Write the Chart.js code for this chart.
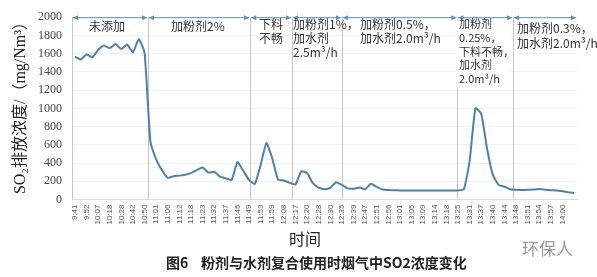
<!DOCTYPE html>
<html>
<head>
<meta charset="utf-8">
<script src="https://cdn.jsdelivr.net/npm/chart.js@4.4.1/dist/chart.umd.min.js"></script>
<style>
  html, body { margin: 0; padding: 0; background: #fff; }
  #wrap { width: 597px; height: 277px; position: relative; }
</style>
</head>
<body>
<div id="wrap"><canvas id="chart" width="597" height="277"></canvas></div>
<script>
// time labels shown under the axis (one per two samples)
const timeLabels = [
  "9:41", "9:52", "10:07", "10:18", "10:28", "10:42", "10:50",
  "11:01", "11:06", "11:12", "11:18", "11:23", "11:32", "11:37",
  "11:45", "11:49", "11:53", "11:59", "12:08", "12:17", "12:20",
  "12:28", "12:30", "12:35", "12:39", "12:47", "12:51", "12:56",
  "13:01", "13:05", "13:09", "13:14", "13:18", "13:25", "13:31",
  "13:37", "13:40", "13:44", "13:48", "13:51", "13:54", "13:57", "14:00"
];

// SO2 concentration, mg/Nm3
const so2Values = [
  1567, 1535, 1590, 1560, 1640, 1690, 1660, 1705, 1650, 1700, 1615, 1760, 1610,
  640, 440, 320, 238, 255, 262, 272, 290, 322, 350, 295, 305, 250, 232, 215,
  410, 315, 215, 170, 380, 620, 450, 218, 208, 185, 165, 310, 290, 180, 130,
  112, 128, 190, 160, 122, 118, 132, 112, 172, 138, 110, 103, 101, 100, 100,
  100, 100, 100, 100, 100, 100, 100, 100, 100, 110, 420, 1000, 940, 560, 270,
  160, 140, 112, 106, 104, 106, 110, 114, 108, 102, 98, 90, 80, 72
];

// boundaries between test stages, in sample positions
const stageBreaks = [12.6, 30.2, 37.4, 46, 65.9, 75.5];

const stageNotes = [
  ["未添加"],
  ["加粉剂2%"],
  ["下料", "不畅"],
  ["加粉剂1%，", "加水剂", "2.5m³/h"],
  ["加粉剂0.5%，", "加水剂2.0m³/h"],
  ["加粉剂", "0.25%，", "下料不畅，", "加水剂", "2.0m³/h"],
  ["加粉剂0.3%，", "加水剂2.0m³/h"]
];

const yMin = 0, yMax = 2000, yStep = 200;

// where each note sits on the canvas
const noteLayout = [
  { x: 89, y: [26], size: 12 },
  { x: 171, y: [26], size: 12 },
  { x: 259, y: [24, 38], size: 12 },
  { x: 293, y: [24, 38, 52], size: 12 },
  { x: 360, y: [24, 38], size: 12 },
  { x: 459, y: [24, 37.5, 51.5, 65, 79], size: 11 },
  { x: 517, y: [28.5, 43], size: 12 }
];

const categories = so2Values.map((v, i) => (i % 2 === 0 ? timeLabels[i / 2] || "" : ""));

const lineColor = "#4d80aa";
const cjk = '"Noto Sans CJK SC"';

const decorations = {
  id: "decorations",
  beforeDatasetsDraw(chart) {
    const { ctx, chartArea, scales } = chart;
    const x0 = scales.x.getPixelForValue(0);
    const step = scales.x.getPixelForValue(1) - x0;
    ctx.save();
    ctx.strokeStyle = "#c4c4c4";
    ctx.lineWidth = 1;
    stageBreaks.forEach(b => {
      const px = Math.round(x0 + b * step) + 0.5;
      ctx.beginPath();
      ctx.moveTo(px, chartArea.top);
      ctx.lineTo(px, chartArea.bottom);
      ctx.stroke();
    });
    ctx.restore();
  },
  afterDraw(chart) {
    const { ctx, chartArea, scales } = chart;
    const x0 = scales.x.getPixelForValue(0);
    const step = scales.x.getPixelForValue(1) - x0;
    const edges = [chartArea.left].concat(stageBreaks.map(b => x0 + b * step), [chartArea.right]);
    ctx.save();

    // white box behind the 0.25% note hides the break line
    ctx.fillStyle = "#fff";
    ctx.fillRect(edges[5] - 1, 17, edges[6] - edges[5] - 2, 71);

    // arrows across the top
    const ay = chartArea.top + 0.5;
    ctx.strokeStyle = "#5b8fc0";
    ctx.fillStyle = "#5b8fc0";
    ctx.lineWidth = 1;
    for (let i = 0; i < edges.length - 1; i++) {
      const a = edges[i] + 1, b = edges[i + 1] - 1;
      ctx.beginPath();
      ctx.moveTo(a, ay);
      ctx.lineTo(b, ay);
      ctx.stroke();
      ctx.beginPath();
      ctx.moveTo(a, ay); ctx.lineTo(a + 5, ay - 2.5); ctx.lineTo(a + 5, ay + 2.5); ctx.closePath();
      ctx.moveTo(b, ay); ctx.lineTo(b - 5, ay - 2.5); ctx.lineTo(b - 5, ay + 2.5); ctx.closePath();
      ctx.fill();
    }

    // stage notes
    ctx.fillStyle = "#333";
    ctx.textBaseline = "middle";
    ctx.textAlign = "left";
    stageNotes.forEach((lines, i) => {
      const lay = noteLayout[i];
      ctx.font = lay.size + "px " + cjk;
      lines.forEach((t, j) => ctx.fillText(t, lay.x, lay.y[j]));
    });

    // y axis title
    ctx.save();
    ctx.translate(21, 104);
    ctx.rotate(-Math.PI / 2);
    ctx.textAlign = "center";
    ctx.fillStyle = "#222";
    ctx.font = '16px "Liberation Serif", ' + cjk;
    ctx.fillText("SO₂排放浓度/（mg/Nm³）", 0, 0);
    ctx.restore();

    // x axis title
    ctx.textAlign = "center";
    ctx.fillStyle = "#222";
    ctx.font = "16px " + cjk;
    ctx.fillText("时间", 305, 239);

    // caption
    ctx.textAlign = "left";
    ctx.font = "bold 14px " + cjk;
    ctx.fillText("图6", 166, 263);
    ctx.fillText("粉剂与水剂复合使用时烟气中SO2浓度变化", 201, 263);

    // watermark
    ctx.fillStyle = "#9a9a9a";
    ctx.font = "17px " + cjk;
    ctx.fillText("环保人", 522, 249);
    ctx.restore();
  }
};

new Chart(document.getElementById("chart"), {
  type: "line",
  data: {
    labels: categories,
    datasets: [{
      data: so2Values,
      borderColor: lineColor,
      borderWidth: 2,
      pointRadius: 0,
      tension: 0.15,
      fill: false
    }]
  },
  options: {
    responsive: false,
    animation: false,
    devicePixelRatio: 1,
    layout: { padding: { left: 0, right: 20, top: 15, bottom: 0 } },
    plugins: { legend: { display: false }, tooltip: { enabled: false } },
    scales: {
      x: {
        offset: true,
        grid: { display: false, drawTicks: false },
        border: { display: true, color: "#dcdcdc" },
        ticks: {
          autoSkip: false,
          maxRotation: 90,
          minRotation: 90,
          padding: 5,
          color: "#555",
          font: { size: 8, family: "Liberation Sans" }
        },
        afterFit(s) { s.height = 77.5; }
      },
      y: {
        min: yMin,
        max: yMax,
        grid: { color: "#f1f1f1", drawTicks: false },
        border: { display: true, color: "#c8c8c8" },
        ticks: {
          stepSize: yStep,
          padding: 10,
          color: "#444",
          font: { size: 12, family: "Liberation Serif" },
          callback: v => String(v)
        },
        afterFit(s) { s.width = 72; }
      }
    }
  },
  plugins: [decorations]
});
</script>
</body>
</html>
